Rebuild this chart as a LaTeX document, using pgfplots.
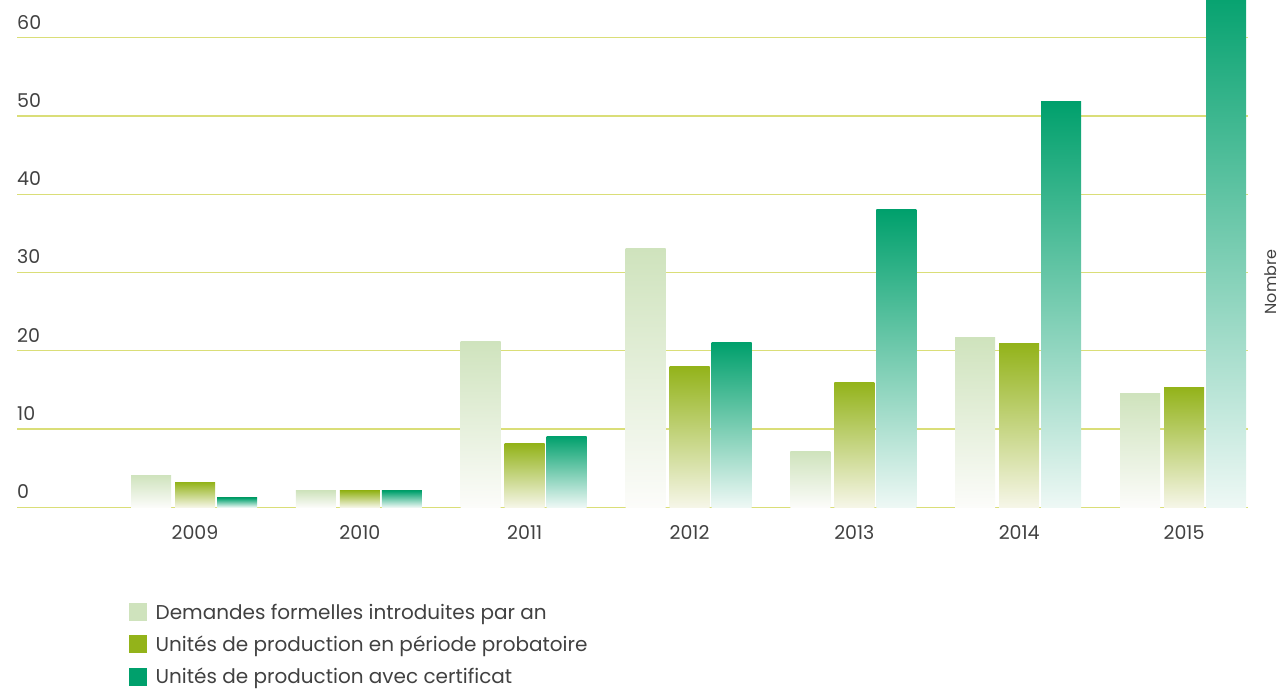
\documentclass[border=0pt]{standalone}
\usepackage{pgfplots}
\pgfplotsset{compat=1.18}
\usepackage{fontspec}
\setmainfont{Poppins}
\definecolor{lightc}{RGB}{207,227,189}
\definecolor{olivec}{RGB}{147,179,26}
\definecolor{tealc}{RGB}{0,160,108}
\definecolor{lightb}{RGB}{252,252,250}
\definecolor{oliveb}{RGB}{246,246,232}
\definecolor{tealb}{RGB}{238,248,245}
\definecolor{gridc}{RGB}{218,222,120}
\definecolor{txt}{RGB}{65,65,65}
\pgfplotsset{
  bl/.style={ybar, bar width=0.2427, bar shift=-0.267, draw=none,
    top color=lightc, bottom color=lightb, forget plot},
  bo/.style={ybar, bar width=0.2427, bar shift=0, draw=none,
    top color=olivec, bottom color=oliveb, forget plot},
  bt/.style={ybar, bar width=0.2427, bar shift=0.255, draw=none,
    top color=tealc, bottom color=tealb, forget plot},
}
\begin{document}
\begin{tikzpicture}
\path[use as bounding box] (-17bp,-183.7bp) rectangle (1264bp,507.3bp);
\begin{axis}[
  at={(0,0)}, anchor=south west,
  scale only axis, width=1231bp, height=507.3bp,
  xmin=-1.08, xmax=6.388, ymin=0, ymax=64.81,
  xtick={0,1,2,3,4,5,6},
  xticklabels={2009,2010,2011,2012,2013,2014,2015},
  ytick={0,10,20,30,40,50,60},
  axis line style={draw=none}, major tick length=0pt,
  ymajorgrids, grid style={gridc, line width=1.2bp},
  /pgf/number format/assume math mode=true,
  tick label style={font=\fontsize{19bp}{22bp}\selectfont, text=txt, inner sep=0pt},
  yticklabel style={anchor=base west, yshift=8.5bp},
  xticklabel style={anchor=base, yshift=-32bp},
  ylabel={Nombre},
  ylabel style={at={(axis description cs:1,0.444)}, anchor=center, yshift=-23bp,
    font=\fontsize{16bp}{18bp}\selectfont, text=txt},
  legend style={at={(axis description cs:0.091,-0.1886)}, anchor=north west,
    draw=none, fill=none, inner sep=0pt, row sep=11bp, column sep=9bp,
    font=\fontsize{20bp}{24bp}\selectfont, text=txt,
    nodes={inner sep=0pt, text height=15bp, text depth=5bp}},
  legend cell align=left,
]
% Demandes formelles introduites par an
\addplot[bl] coordinates {(0,4.1)};
\addplot[bl] coordinates {(1,2.1)};
\addplot[bl] coordinates {(2,21.2)};
\addplot[bl] coordinates {(3,33.0)};
\addplot[bl] coordinates {(4,7.1)};
\addplot[bl] coordinates {(5,21.7)};
\addplot[bl] coordinates {(6,14.5)};
% Unites de production en periode probatoire
\addplot[bo] coordinates {(0,3.2)};
\addplot[bo] coordinates {(1,2.1)};
\addplot[bo] coordinates {(2,8.1)};
\addplot[bo] coordinates {(3,18.0)};
\addplot[bo] coordinates {(4,16.0)};
\addplot[bo] coordinates {(5,20.9)};
\addplot[bo] coordinates {(6,15.3)};
% Unites de production avec certificat
\addplot[bt] coordinates {(0,1.2)};
\addplot[bt] coordinates {(1,2.1)};
\addplot[bt] coordinates {(2,9.1)};
\addplot[bt] coordinates {(3,21.0)};
\addplot[bt] coordinates {(4,38.0)};
\addplot[bt] coordinates {(5,51.9)};
\addplot[bt] coordinates {(6,67.0)};
\addlegendimage{legend image code/.code={\fill[lightc] (0bp,-6bp) rectangle (17bp,11bp);}}
\addlegendentry{Demandes formelles introduites par an}
\addlegendimage{legend image code/.code={\fill[olivec] (0bp,-6bp) rectangle (17bp,11bp);}}
\addlegendentry{Unités de production en période probatoire}
\addlegendimage{legend image code/.code={\fill[tealc] (0bp,-6bp) rectangle (17bp,11bp);}}
\addlegendentry{Unités de production avec certificat}
\end{axis}
\end{tikzpicture}
\end{document}
